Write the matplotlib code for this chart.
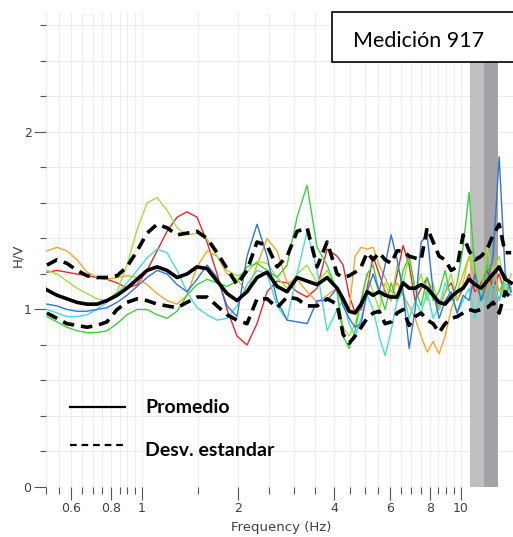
import matplotlib
matplotlib.use("Agg")
import matplotlib.pyplot as plt
from matplotlib.lines import Line2D
from matplotlib.patches import Rectangle

# frequency samples (Hz)
freq = [0.503, 0.541, 0.581, 0.625, 0.672, 0.722, 0.776, 0.835, 0.897, 0.965,
        1.037, 1.115, 1.198, 1.288, 1.384, 1.488, 1.600, 1.720, 1.849, 1.987,
        2.136, 2.296, 2.469, 2.654, 2.853, 3.067, 3.297, 3.544, 3.810, 4.096,
        4.277, 4.467, 4.665, 4.872, 5.088, 5.313, 5.549, 5.794, 6.051, 6.319,
        6.600, 6.892, 7.197, 7.516, 7.849, 8.199, 8.561, 8.940, 9.337, 9.750,
        10.18, 10.63, 11.10, 11.60, 12.11, 12.65, 13.21, 13.80, 14.41]

# individual H/V windows
hv_red = [1.21, 1.22, 1.21, 1.20, 1.19, 1.18, 1.17, 1.15, 1.12, 1.14,
          1.22, 1.33, 1.44, 1.52, 1.55, 1.52, 1.38, 1.20, 1.00, 0.85,
          0.80, 0.92, 1.10, 1.16, 1.15, 1.10, 1.07, 1.12, 1.34, 1.30,
          1.25, 1.08, 0.98, 1.00, 1.12, 1.30, 1.20, 1.10, 1.05, 1.20,
          1.36, 1.25, 1.05, 1.12, 1.18, 1.08, 1.00, 1.10, 1.15, 1.05,
          1.12, 1.20, 1.10, 1.15, 1.22, 1.12, 1.20, 1.08, 1.15]
hv_orange = [1.33, 1.35, 1.33, 1.28, 1.21, 1.18, 1.17, 1.18, 1.19, 1.18,
             1.14, 1.09, 1.05, 1.03, 1.08, 1.24, 1.33, 1.30, 1.20, 1.17,
             1.10, 1.25, 1.40, 1.33, 1.15, 1.17, 1.10, 1.04, 1.08, 1.12,
             1.05, 1.00, 1.30, 1.35, 1.34, 1.35, 1.25, 1.18, 1.10, 1.15,
             1.08, 1.02, 0.95, 0.85, 0.76, 0.82, 0.75, 0.85, 1.00, 1.10,
             1.20, 1.30, 1.15, 1.05, 1.12, 1.25, 1.10, 1.18, 1.12]
hv_lime = [1.22, 1.20, 1.16, 1.12, 1.09, 1.06, 1.05, 1.10, 1.25, 1.45,
           1.60, 1.63, 1.56, 1.46, 1.42, 1.43, 1.40, 1.30, 1.22, 1.19,
           1.21, 1.27, 1.26, 1.18, 1.12, 1.20, 1.25, 1.15, 1.22, 1.10,
           0.90, 0.85, 0.92, 1.05, 1.20, 1.10, 1.00, 1.15, 1.05, 1.25,
           1.15, 1.30, 1.10, 1.20, 1.05, 1.15, 1.00, 1.10, 1.20, 1.05,
           1.15, 1.30, 1.25, 1.10, 1.35, 1.20, 1.30, 1.10, 1.20]
hv_green = [0.96, 0.93, 0.90, 0.88, 0.87, 0.87, 0.88, 0.92, 0.97, 1.00,
            1.00, 0.97, 0.95, 0.99, 1.08, 1.14, 1.17, 1.15, 1.13, 1.16,
            1.24, 1.26, 1.22, 1.18, 1.25, 1.52, 1.70, 1.35, 1.25, 1.10,
            0.85, 0.78, 0.88, 1.05, 1.20, 1.25, 1.10, 1.00, 1.15, 1.05,
            1.22, 1.30, 1.12, 1.02, 1.18, 1.05, 1.10, 1.22, 1.05, 1.15,
            1.35, 1.66, 1.20, 1.05, 1.25, 1.15, 1.05, 1.20, 1.10]
hv_cyan = [1.00, 0.98, 0.96, 0.96, 0.97, 1.00, 1.04, 1.09, 1.15, 1.22,
           1.29, 1.34, 1.32, 1.22, 1.10, 1.01, 0.97, 0.94, 0.95, 1.02,
           1.14, 1.22, 1.20, 1.02, 0.94, 1.20, 1.44, 1.22, 0.88, 1.00,
           1.05, 0.92, 0.85, 0.95, 1.08, 1.00, 0.85, 0.74, 0.88, 1.05,
           1.10, 0.95, 1.05, 0.98, 1.10, 0.95, 1.02, 1.15, 1.08, 0.98,
           1.05, 1.12, 0.95, 1.10, 1.00, 1.15, 1.05, 1.15, 1.08]
hv_blue = [1.03, 1.02, 1.00, 0.99, 0.99, 1.00, 1.01, 1.04, 1.08, 1.13,
           1.18, 1.22, 1.20, 1.14, 1.10, 1.17, 1.25, 1.18, 1.02, 0.96,
           1.30, 1.48, 1.30, 1.05, 0.94, 0.93, 0.92, 1.05, 1.05, 1.12,
           1.02, 0.95, 0.90, 0.92, 1.10, 1.20, 1.10, 1.25, 1.42, 1.28,
           1.10, 0.78, 1.00, 1.38, 1.42, 1.10, 0.95, 1.05, 1.10, 0.98,
           1.08, 1.05, 1.20, 1.05, 1.15, 1.30, 1.86, 1.20, 1.10]

# average and +/- standard deviation
hv_mean = [1.11, 1.08, 1.06, 1.04, 1.03, 1.03, 1.05, 1.08, 1.12, 1.17,
           1.22, 1.24, 1.22, 1.18, 1.20, 1.24, 1.23, 1.16, 1.09, 1.05,
           1.10, 1.18, 1.21, 1.13, 1.10, 1.18, 1.16, 1.14, 1.18, 1.12,
           1.06, 0.99, 0.98, 1.03, 1.10, 1.08, 1.10, 1.08, 1.07, 1.07,
           1.15, 1.12, 1.12, 1.14, 1.12, 1.08, 1.04, 1.03, 1.07, 1.10,
           1.12, 1.17, 1.14, 1.12, 1.16, 1.20, 1.24, 1.17, 1.15]
hv_upper = [1.25, 1.28, 1.26, 1.22, 1.19, 1.18, 1.18, 1.19, 1.24, 1.33,
            1.43, 1.48, 1.46, 1.42, 1.43, 1.44, 1.40, 1.32, 1.23, 1.14,
            1.22, 1.38, 1.36, 1.24, 1.30, 1.44, 1.46, 1.24, 1.38, 1.20,
            1.18, 1.19, 1.21, 1.24, 1.32, 1.28, 1.32, 1.28, 1.26, 1.33,
            1.33, 1.30, 1.29, 1.28, 1.46, 1.38, 1.30, 1.28, 1.22, 1.24,
            1.42, 1.33, 1.28, 1.30, 1.34, 1.42, 1.48, 1.32, 1.32]
hv_lower = [0.98, 0.95, 0.92, 0.91, 0.90, 0.91, 0.93, 1.00, 1.04, 1.06,
            1.05, 1.03, 1.02, 1.01, 1.04, 1.07, 1.07, 1.02, 0.97, 0.94,
            0.92, 1.06, 1.06, 1.01, 1.07, 1.06, 1.02, 1.02, 1.06, 1.03,
            0.86, 0.81, 0.85, 0.90, 0.95, 0.98, 0.99, 0.92, 0.93, 0.98,
            1.00, 0.91, 0.96, 0.98, 0.94, 0.92, 0.87, 0.92, 0.95, 0.96,
            0.98, 1.00, 0.99, 1.00, 1.01, 1.04, 0.98, 1.10, 1.06]

band_light = (10.67, 11.8)
band_dark = (11.8, 13.06)

major_x = [0.6, 0.8, 1, 2, 4, 6, 8, 10]
minor_x = [0.5, 0.55, 0.65, 0.7, 0.75, 0.85, 0.9, 0.95, 1.5, 2.5, 3, 3.5,
           4.5, 5, 5.5, 6.5, 7, 7.5, 8.5, 9, 9.5]
major_x_labels = ["0.6", "0.8", "1", "2", "4", "6", "8", "10"]

fig = plt.figure(figsize=(5.13, 5.37), dpi=100)
ax = fig.add_axes([0.0899, 0.0931, 0.9101, 0.8827])

ax.axvspan(*band_light, color="#bfbfbf", lw=0, zorder=1)
ax.axvspan(*band_dark, color="#a3a3a7", lw=0, zorder=1)

windows = [(hv_red, "#e8262b"), (hv_orange, "#f5a623"), (hv_lime, "#9de23c"),
           (hv_green, "#3ccf3c"), (hv_cyan, "#44dfd2"), (hv_blue, "#2f74d8")]
for vals, col in windows:
    ax.plot(freq, vals, color=col, lw=1.0, zorder=2)

ax.plot(freq, hv_mean, color="black", lw=2.6, zorder=4)
ax.plot(freq, hv_upper, color="black", lw=2.6, dashes=(3.2, 1.9), zorder=4)
ax.plot(freq, hv_lower, color="black", lw=2.6, dashes=(3.2, 1.9), zorder=4)

ax.set_xscale("log")
ax.set_xlim(0.5, 14.6)
ax.set_ylim(0, 2.67)
ax.set_xticks(major_x)
ax.set_xticklabels(major_x_labels)
ax.set_xticks(minor_x, minor=True)
ax.set_xticklabels([], minor=True)
ax.set_yticks([0, 1, 2])
ax.set_yticks([0.2, 0.4, 0.6, 0.8, 1.2, 1.4, 1.6, 1.8, 2.2, 2.4, 2.6], minor=True)

ax.grid(True, which="both", color="#ededed", lw=0.8, zorder=0)
ax.set_axisbelow(True)
for s in ax.spines.values():
    s.set_visible(False)

ax.tick_params(axis="x", which="major", length=9.5, width=0.8, color="#555555",
               labelsize=9, labelcolor="#404040", pad=1)
ax.tick_params(axis="x", which="minor", length=5, width=0.8, color="#555555")
ax.tick_params(axis="y", which="major", length=8.5, width=0.8, color="#555555",
               labelsize=9, labelcolor="#404040", pad=2)
ax.tick_params(axis="y", which="minor", length=4.3, width=0.8, color="#555555")

fig.text(0.548, 0.0186, "Frequency (Hz)", ha="center", va="center",
         fontsize=9.5, color="#404040")
fig.text(0.035, 0.525, "H/V", ha="center", va="center", rotation=90,
         fontsize=9.5, color="#404040")

# legend drawn by hand, like the original annotation
fig.add_artist(Line2D([0.1365, 0.2437], [0.2421, 0.2421], color="black", lw=1.6))
fig.add_artist(Line2D([0.1365, 0.2437], [0.1713, 0.1713], color="black", lw=1.6,
                      dashes=(3, 2.2)))
fig.text(0.2827, 0.2309, "Promedio", fontfamily="Lato", fontweight="bold",
         fontsize=14, va="baseline")
fig.text(0.2827, 0.1508, "Desv. estandar", fontfamily="Lato", fontweight="bold",
         fontsize=14, va="baseline")

# title box
fig.add_artist(Rectangle((0.647, 0.8845), 0.36, 0.0932, transform=fig.transFigure,
                         facecolor="white", edgecolor="black", lw=1.2, zorder=6))
fig.text(0.688, 0.9125, "Medición 917", fontfamily="Lato", fontsize=15.5,
         va="baseline", zorder=7)

fig.savefig("out.png", dpi=100)
